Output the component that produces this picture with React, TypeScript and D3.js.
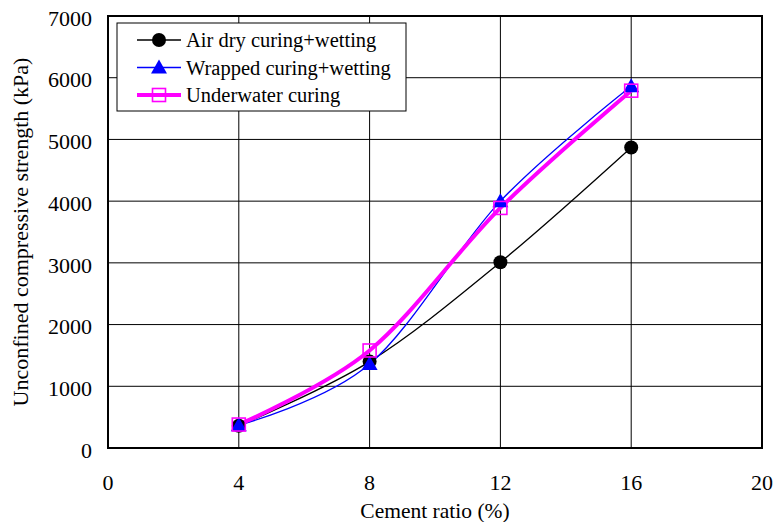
import React from "react";
import * as d3 from "d3";

const cementRatio = [4, 8, 12, 16];
const airDry = [360, 1400, 3010, 4870];
const wrapped = [370, 1360, 4000, 5860];
const underwater = [380, 1580, 3890, 5790];
const seriesNames = ["Air dry curing+wetting", "Wrapped curing+wetting", "Underwater curing"];
const xTicks = [0, 4, 8, 12, 16, 20];
const yTicks = [0, 1000, 2000, 3000, 4000, 5000, 6000, 7000];

const W = 774, H = 522;
const M = { left: 108, right: 12, top: 16, bottom: 74 };
const FONT = "'Liberation Serif', 'Times New Roman', serif";

function Marker({ kind, x, y }: { kind: number; x: number; y: number }) {
  if (kind === 0) return <circle cx={x} cy={y} r={7} fill="#000" />;
  if (kind === 1) {
    const s = 8;
    return <path d={`M${x},${y - s}L${x + s},${y + s * 0.75}L${x - s},${y + s * 0.75}Z`} fill="#0000ff" />;
  }
  return <rect x={x - 6.5} y={y - 6.5} width={13} height={13} fill="none" stroke="#ff00ff" strokeWidth={1.6} />;
}

export default function App() {
  const x = d3.scaleLinear().domain([0, 20]).range([M.left, W - M.right]);
  const y = d3.scaleLinear().domain([0, 7000]).range([H - M.bottom, M.top]);
  const data = [airDry, wrapped, underwater];
  const colors = ["#000000", "#0000ff", "#ff00ff"];
  const widths = [1.3, 1.3, 4];
  const line = d3.line<[number, number]>().x(d => x(d[0])).y(d => y(d[1])).curve(d3.curveCardinal.tension(0));

  return (
    <svg width={W} height={H} style={{ position: "absolute", left: 0, top: 0, background: "#fff" }} fontFamily={FONT}>
      <rect x={0} y={0} width={W} height={H} fill="#fff" />
      {yTicks.slice(1, -1).map(t => (
        <line key={"gy" + t} x1={x(0)} x2={x(20)} y1={y(t)} y2={y(t)} stroke="#000" strokeWidth={1} />
      ))}
      {xTicks.slice(1, -1).map(t => (
        <line key={"gx" + t} x1={x(t)} x2={x(t)} y1={y(0)} y2={y(7000)} stroke="#000" strokeWidth={1} />
      ))}
      <rect x={x(0)} y={y(7000)} width={x(20) - x(0)} height={y(0) - y(7000)} fill="none" stroke="#000" strokeWidth={2} />
      {yTicks.map(t => (
        <text key={"ty" + t} x={x(0) - 16} y={y(t) + 2} dy="0.35em" textAnchor="end" fontSize={22}>{t}</text>
      ))}
      {xTicks.map(t => (
        <text key={"tx" + t} x={x(t)} y={y(0) + 42} textAnchor="middle" fontSize={22}>{t}</text>
      ))}
      <text x={(x(0) + x(20)) / 2} y={H - 4} textAnchor="middle" fontSize={21.5}>Cement ratio (%)</text>
      <text transform={`translate(28,${(y(0) + y(7000)) / 2}) rotate(-90)`} textAnchor="middle" fontSize={22}>Unconfined compressive strength (kPa)</text>
      {data.map((vals, i) => (
        <path key={"l" + i} d={line(cementRatio.map((c, j) => [c, vals[j]] as [number, number])) || ""} fill="none" stroke={colors[i]} strokeWidth={widths[i]} />
      ))}
      {data.map((vals, i) => (
        <g key={"m" + i}>
          {cementRatio.map((c, j) => <Marker key={j} kind={i} x={x(c)} y={y(vals[j])} />)}
        </g>
      ))}
      <g>
        <rect x={117} y={23} width={289} height={88} fill="#fff" stroke="#000" strokeWidth={1} />
        {seriesNames.map((n, i) => {
          const yy = 40 + i * 27.5;
          return (
            <g key={"lg" + i}>
              <line x1={137} x2={181} y1={yy} y2={yy} stroke={colors[i]} strokeWidth={widths[i]} />
              <Marker kind={i} x={159} y={yy} />
              <text x={186} y={yy} dy="0.35em" fontSize={20.5}>{n}</text>
            </g>
          );
        })}
      </g>
    </svg>
  );
}
